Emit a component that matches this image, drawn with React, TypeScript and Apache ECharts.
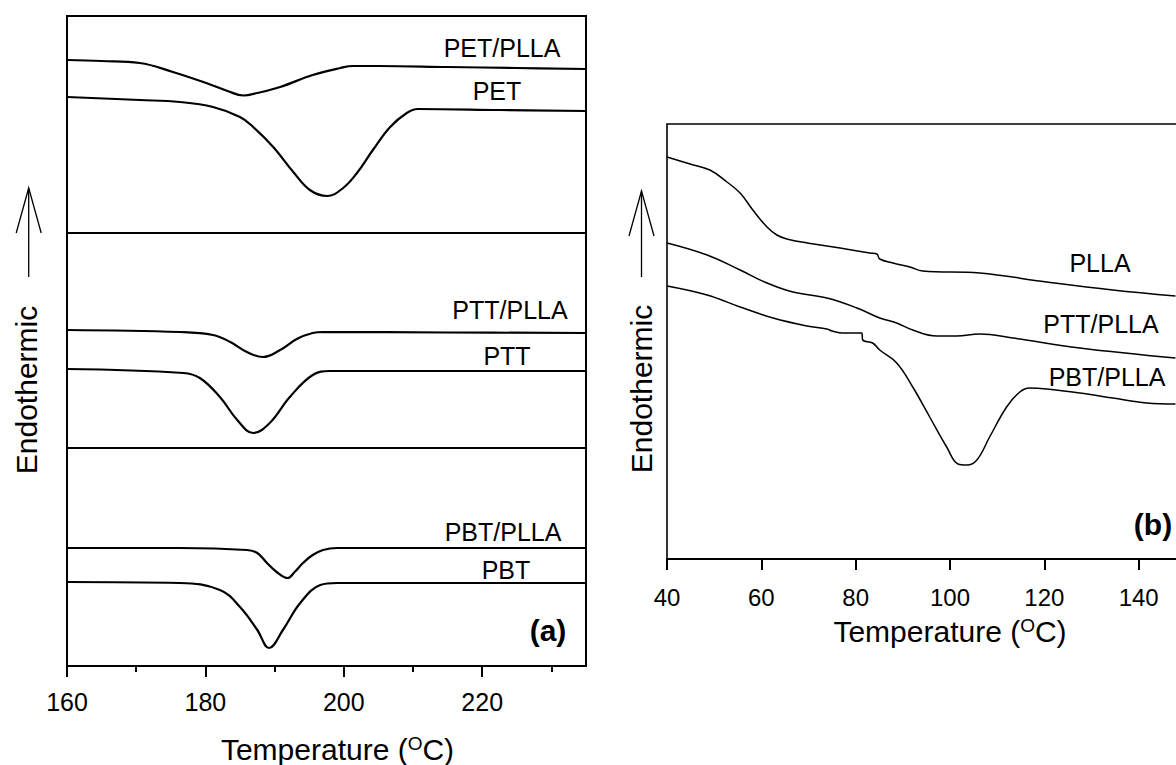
import { useEffect, useRef } from "react";
import * as echarts from "echarts";

// ---------- Panel (a): melting region, heat flow in arbitrary units (endo up) ----------
const petPllaT = [160, 165, 170.5, 175.3, 180.5, 183.2, 185.5, 187.5, 190.8, 195.5, 199.5, 201.3, 205, 215, 225, 235];
const petPllaV = [60.6, 60.5, 60.3, 59.4, 58.2, 57.5, 57.05, 57.3, 57.9, 59.1, 59.8, 60.0, 60.0, 59.9, 59.8, 59.7];

const petT = [160, 170.5, 176.3, 181.1, 185.0, 186.9, 189.8, 192.7, 195.1, 197.6, 199.9, 201.9, 204.2, 206.7, 209.1, 210.7, 222.6, 235];
const petV = [56.9, 56.6, 56.4, 55.9, 54.9, 53.9, 51.9, 49.4, 47.6, 47.0, 47.8, 49.3, 51.6, 53.9, 55.3, 55.7, 55.6, 55.5];

const pttPllaT = [160, 176.3, 181.1, 183.6, 186.0, 188.3, 190.8, 193.2, 195.5, 197.0, 215, 235];
const pttPllaV = [33.6, 33.4, 33.1, 32.4, 31.4, 30.9, 31.6, 32.7, 33.3, 33.4, 33.35, 33.3];

const pttT = [160, 176.8, 179.2, 182.1, 184.6, 186.9, 189.3, 192.2, 195.5, 198.0, 215, 235];
const pttV = [29.7, 29.3, 28.8, 26.9, 24.6, 23.3, 24.3, 26.9, 29.1, 29.5, 29.5, 29.5];

const pbtPllaT = [160, 176.3, 186.0, 187.5, 188.9, 190.3, 191.9, 192.9, 194.1, 195.5, 197.0, 199.0, 235];
const pbtPllaV = [11.8, 11.8, 11.6, 11.3, 10.3, 9.4, 8.8, 9.4, 10.3, 11.1, 11.6, 11.8, 11.8];

const pbtT = [160, 176.3, 182.1, 185.0, 187.5, 189.2, 191.2, 193.7, 196.6, 199.0, 235];
const pbtV = [8.4, 8.3, 7.6, 5.9, 3.6, 1.8, 3.6, 6.3, 8.1, 8.3, 8.3];

const panelDividers = [43.3, 21.8];
const aMajorTicks = [160, 180, 200, 220];
const aMinorTicks = [170, 190, 210, 230];

// ---------- Panel (b): cold-crystallisation region ----------
const pllaT = [40, 44.9, 49.1, 52.7, 55.5, 58.2, 61.2, 63.3, 65.4, 69.7, 76.7, 83.0, 84.5, 85.1, 87.9, 91.5, 94.2, 106.3, 120.5, 134.5, 147.8];
const pllaV = [40.2, 39.5, 38.9, 37.7, 36.6, 34.9, 33.2, 32.4, 32.0, 31.6, 31.1, 30.6, 30.5, 30.0, 29.6, 29.2, 28.8, 28.6, 27.7, 26.9, 26.3];

const pttPllaBT = [40, 48.5, 55.5, 61.2, 66.7, 73.9, 80.3, 85.1, 88.7, 92.1, 97.2, 101.4, 106.3, 113.3, 127.5, 147.8];
const pttPllaBV = [31.6, 30.4, 28.9, 27.6, 26.7, 26.1, 25.1, 24.1, 23.6, 22.9, 22.3, 22.3, 22.5, 22.1, 21.1, 20.1];

const pbtPllaBT = [40, 48.5, 55.5, 62.5, 69.7, 73.9, 75.0, 77.3, 80.9, 81.3, 81.5, 83.6, 85.1, 88.7, 92.1, 95.7, 99.3, 101.7, 103.6, 105.7, 108.4, 112.0, 114.8, 116.9, 120.5, 127.5, 134.5, 141.7, 147.8];
const pbtPllaBV = [27.3, 26.4, 25.2, 24.1, 23.3, 23.0, 22.8, 22.6, 22.6, 22.6, 21.9, 21.6, 20.9, 19.6, 17.2, 14.2, 11.2, 9.5, 9.4, 9.9, 12.2, 15.2, 16.7, 17.1, 17.0, 16.6, 16.1, 15.6, 15.5];

const bTickLabels = [40, 60, 80, 100, 120, 140];

const FONT = "'Liberation Sans', Arial, sans-serif";

function line(name: string, T: number[], V: number[], axis: number, width: number, extra: any = {}) {
  return {
    name,
    type: "line",
    xAxisIndex: axis === 0 ? 0 : 2,
    yAxisIndex: axis,
    data: T.map((t, i) => [t, V[i]]),
    showSymbol: false,
    symbol: "none",
    smooth: 0.4,
    silent: true,
    lineStyle: { color: "#000", width },
    ...extra,
  };
}

function label(text: string, x: number, y: number, size = 25, bold = false) {
  return {
    type: "text",
    x,
    y,
    silent: true,
    style: {
      text,
      fill: "#000",
      fontSize: size,
      fontFamily: FONT,
      fontWeight: bold ? "bold" : "normal",
      align: "center",
      verticalAlign: "middle",
      textAlign: "center",
      textVerticalAlign: "middle",
    },
  };
}

function yTitle(x: number, y: number) {
  return {
    type: "text",
    x,
    y,
    rotation: Math.PI / 2,
    silent: true,
    style: {
      text: "Endothermic",
      fill: "#000",
      fontSize: 30,
      fontFamily: FONT,
      align: "center",
      verticalAlign: "middle",
      textAlign: "center",
      textVerticalAlign: "middle",
    },
  };
}

function arrow(x: number, tip: number, headEnd: number, bottom: number) {
  return [
    { type: "line", silent: true, shape: { x1: x, y1: tip, x2: x, y2: bottom }, style: { stroke: "#000", lineWidth: 1.3 } },
    {
      type: "polyline",
      silent: true,
      shape: { points: [[x - 12.5, headEnd], [x, tip], [x + 12.5, headEnd]] },
      style: { stroke: "#000", lineWidth: 1.3, fill: null },
    },
  ];
}

const tempName = "Temperature ({sup|O}C)";
const nameRich = { sup: { fontSize: 19, fontFamily: FONT, color: "#000", verticalAlign: "top", lineHeight: 19 } };

export default function App() {
  const ref = useRef<HTMLDivElement>(null);
  useEffect(() => {
    if (!ref.current) return;
    const chart = echarts.init(ref.current, null, { renderer: "svg" });
    const option: any = {
      animation: false,
      backgroundColor: "#fff",
      grid: [
        { left: 67, top: 16, width: 519, height: 650, show: true, borderColor: "#000", borderWidth: 2, backgroundColor: "transparent", containLabel: false, outerBoundsMode: "none" },
        { left: 667, top: 124, width: 566, height: 435, show: true, borderColor: "#000", borderWidth: 1.6, backgroundColor: "transparent", containLabel: false, outerBoundsMode: "none" },
      ],
      xAxis: [
        {
          gridIndex: 0,
          type: "value",
          position: "bottom",
          min: 160,
          max: 235,
          interval: 20,
          axisLine: { show: true, onZero: false, lineStyle: { color: "#000", width: 2 } },
          axisTick: { show: true, inside: false, length: 11, customValues: aMajorTicks, lineStyle: { color: "#000", width: 2 } },
          axisLabel: { customValues: aMajorTicks, color: "#000", fontSize: 25, fontFamily: FONT, margin: 23 },
          splitLine: { show: false },
          name: tempName,
          nameLocation: "middle",
          nameGap: 68,
          nameTextStyle: { color: "#000", fontSize: 30, fontFamily: FONT, padding: [0, 0, 0, 22], rich: nameRich },
        },
        {
          gridIndex: 0,
          type: "value",
          position: "bottom",
          min: 160,
          max: 235,
          interval: 20,
          axisLine: { show: false, onZero: false },
          axisTick: { show: true, inside: false, length: 6, customValues: aMinorTicks, lineStyle: { color: "#000", width: 2 } },
          axisLabel: { show: false },
          splitLine: { show: false },
        },
        {
          gridIndex: 1,
          type: "value",
          position: "bottom",
          min: 40,
          max: 160,
          interval: 20,
          axisLine: { show: true, onZero: false, lineStyle: { color: "#000", width: 2 } },
          axisTick: { show: true, inside: false, length: 11, lineStyle: { color: "#000", width: 2 } },
          axisLabel: { customValues: bTickLabels, color: "#000", fontSize: 24, fontFamily: FONT, margin: 26 },
          splitLine: { show: false },
          name: tempName,
          nameLocation: "middle",
          nameGap: 57,
          nameTextStyle: { color: "#000", fontSize: 30, fontFamily: FONT, rich: nameRich },
        },
      ],
      yAxis: [
        { gridIndex: 0, type: "value", min: 0, max: 65, axisLine: { show: false }, axisTick: { show: false }, axisLabel: { show: false }, splitLine: { show: false } },
        { gridIndex: 1, type: "value", min: 0, max: 43.5, axisLine: { show: false }, axisTick: { show: false }, axisLabel: { show: false }, splitLine: { show: false } },
      ],
      series: [
        line("PET/PLLA", petPllaT, petPllaV, 0, 2.2),
        line("PET", petT, petV, 0, 2.2, {
          markLine: {
            silent: true,
            symbol: "none",
            label: { show: false },
            lineStyle: { color: "#000", width: 2, type: "solid" },
            data: panelDividers.map((v) => ({ yAxis: v })),
          },
        }),
        line("PTT/PLLA", pttPllaT, pttPllaV, 0, 2.2),
        line("PTT", pttT, pttV, 0, 2.2),
        line("PBT/PLLA", pbtPllaT, pbtPllaV, 0, 2.2),
        line("PBT", pbtT, pbtV, 0, 2.2),
        line("PLLA", pllaT, pllaV, 1, 1.5),
        line("PTT/PLLA (b)", pttPllaBT, pttPllaBV, 1, 1.5),
        line("PBT/PLLA (b)", pbtPllaBT, pbtPllaBV, 1, 1.5),
      ],
      graphic: [
        label("PET/PLLA", 502, 48),
        label("PET", 497, 91),
        label("PTT/PLLA", 510, 310),
        label("PTT", 507, 356),
        label("PBT/PLLA", 503, 532),
        label("PBT", 506, 570),
        label("(a)", 548, 630, 30, true),
        label("PLLA", 1100, 263),
        label("PTT/PLLA", 1101, 324),
        label("PBT/PLLA", 1107, 377),
        label("(b)", 1153, 524, 30, true),
        yTitle(26, 390),
        yTitle(641, 389),
        ...arrow(28.7, 188, 233, 277),
        ...arrow(641.5, 191, 236, 277),
      ],
    };
    chart.setOption(option);
    return () => chart.dispose();
  }, []);
  return (
    <div
      ref={ref}
      style={{ position: "fixed", left: 0, top: 0, width: 1176, height: 765, overflow: "hidden", background: "#fff" }}
    />
  );
}
